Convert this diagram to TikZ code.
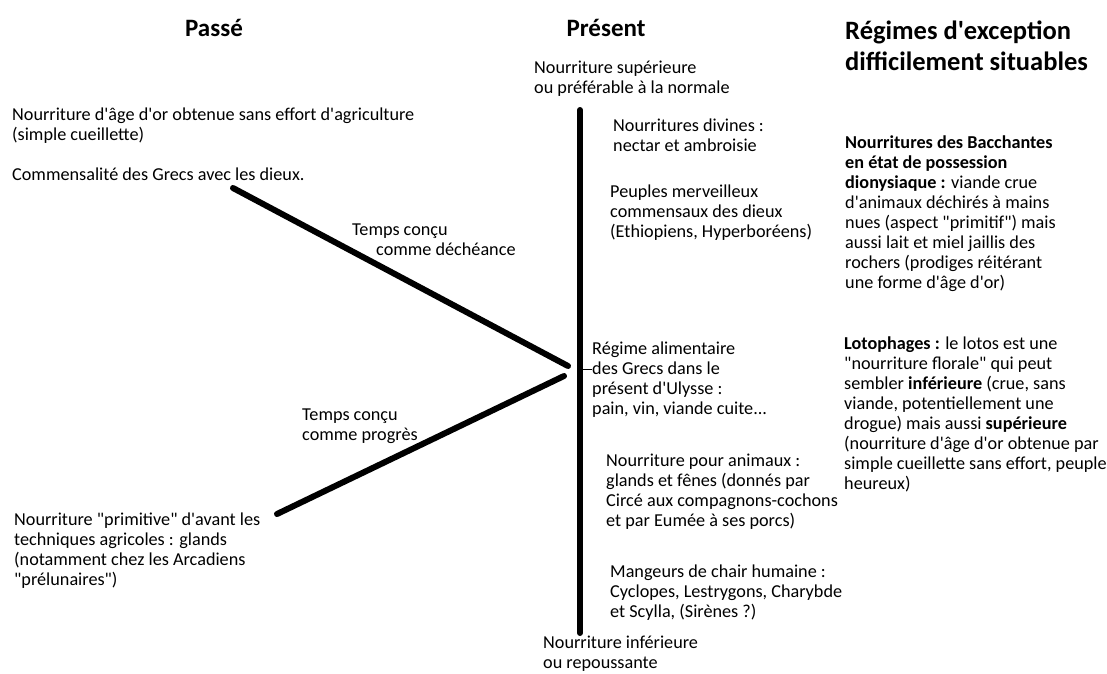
\documentclass[tikz,border=0pt]{standalone}
\usepackage{fontspec}
\setmainfont{Carlito}[Ligatures=TeXOff]

\begin{document}
\begin{tikzpicture}[x=1pt, y=-1pt,
    every node/.style={inner sep=0pt, anchor=north west, align=left,
      font=\fontsize{18.2}{20}\selectfont},
    titre/.style={anchor=center, font=\fontsize{25}{30}\bfseries\selectfont},
    bar/.style={line width=6pt, line cap=round}]
  \useasboundingbox (0,0) rectangle (1107,673);

  \node[titre] (passe) at (214,28) {Passé};
  \node[titre] (present) at (606,28) {Présent};
  \node[font=\fontsize{26.5}{31}\bfseries\selectfont] (exception) at (845,21)
    {Régimes d'exception\\difficilement situables};

  \node (sup) at (534,61) {Nourriture supérieure\\ou préférable à la normale};
  \node (inf) at (543,636) {Nourriture inférieure\\ou repoussante};

  \node (ageor) at (12,108) {Nourriture d'âge d'or obtenue sans effort d'agriculture\\(simple cueillette)};
  \node (commens) at (12,168) {Commensalité des Grecs avec les dieux.};
  \node (decheance) at (352,224) {Temps conçu\\\hspace*{24pt}comme déchéance};
  \node (progres) at (302,409) {Temps conçu\\comme progrès};
  \node (primitive) at (14,513) {Nourriture "primitive" d'avant les\\techniques agricoles : glands\\(notamment chez les Arcadiens\\"prélunaires")};

  \node (divines) at (613,119) {Nourritures divines :\\nectar et ambroisie};
  \node (merveilleux) at (610,185) {Peuples merveilleux\\commensaux des dieux\\(Ethiopiens, Hyperboréens)};
  \node (regime) at (592,342) {Régime alimentaire\\des Grecs dans le\\présent d'Ulysse :\\pain, vin, viande cuite...};
  \node (animaux) at (606,454) {Nourriture pour animaux :\\glands et fênes (donnés par\\Circé aux compagnons-cochons\\et par Eumée à ses porcs)};
  \node (mangeurs) at (610,565) {Mangeurs de chair humaine :\\Cyclopes, Lestrygons, Charybde\\et Scylla, (Sirènes ?)};

  \node (bacchantes) at (845,136) {\textbf{Nourritures des Bacchantes}\\\textbf{en état de possession}\\\textbf{dionysiaque :} viande crue\\d'animaux déchirés à mains\\nues (aspect "primitif") mais\\aussi lait et miel jaillis des\\rochers (prodiges réitérant\\une forme d'âge d'or)};
  \node (lotophages) at (844,337) {\textbf{Lotophages :} le lotos est une\\"nourriture florale" qui peut\\sembler \textbf{inférieure} (crue, sans\\viande, potentiellement une\\drogue) mais aussi \textbf{supérieure}\\(nourriture d'âge d'or obtenue par\\simple cueillette sans effort, peuple\\heureux)};

  \coordinate (haut) at (580,110);
  \coordinate (bas) at (580,633);
  \coordinate (age) at (233,188);
  \coordinate (pointe1) at (568,366);
  \coordinate (gland) at (277,514);
  \coordinate (pointe2) at (564,376);
  \coordinate (trait) at (583,369);

  \draw[bar] (haut) -- (bas);
  \draw[bar] (age) -- (pointe1);
  \draw[bar] (gland) -- (pointe2);
  \draw (trait) -- (trait -| regime.west);
\end{tikzpicture}
\end{document}
